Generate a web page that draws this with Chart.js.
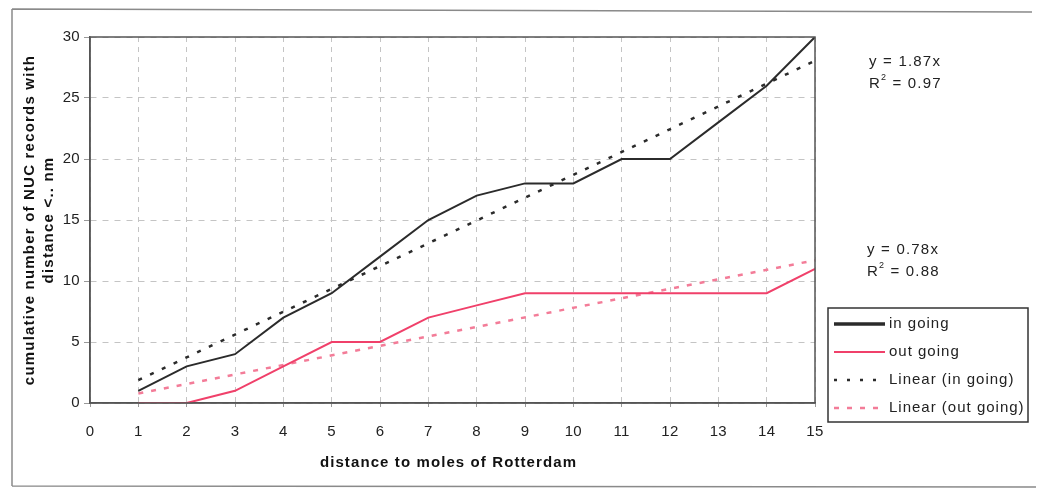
<!DOCTYPE html>
<html>
<head>
<meta charset="utf-8">
<script src="https://cdn.jsdelivr.net/npm/chart.js@4"></script>
<style>
  html, body { margin: 0; padding: 0; background: #fff; }
  #wrap { width: 1041px; height: 491px; position: relative; }
</style>
</head>
<body>
<div id="wrap"><canvas id="c" width="1041" height="491"></canvas></div>
<script>
// Distance to the moles (nm)
const distances = [1, 2, 3, 4, 5, 6, 7, 8, 9, 10, 11, 12, 13, 14, 15];
// Cumulative NUC records within the distance
const inGoing  = [1, 3, 4, 7, 9, 12, 15, 17, 18, 18, 20, 20, 23, 26, 30];
const outGoing = [0, 0, 1, 3, 5, 5, 7, 8, 9, 9, 9, 9, 9, 9, 11];
// Linear fits through the origin: y = 1.87x and y = 0.78x, ends at x = 1 and x = 15
const trendX   = [1, 15];
const trendIn  = [1.87, 28.05];
const trendOut = [0.78, 11.7];
const xTicks = [0, 1, 2, 3, 4, 5, 6, 7, 8, 9, 10, 11, 12, 13, 14, 15];
const yTicks = [0, 5, 10, 15, 20, 25, 30];

const xTitle = 'distance to moles of Rotterdam';
const yTitle = ['cumulative number of NUC records with', 'distance <.. nm'];

const BLACK = '#2b2b2b';
const PINK = '#f0406a';
const PINK_DOT = '#f37c98';
const FONT = '"Liberation Sans", Arial, sans-serif';

const pts = (xs, ys) => xs.map((x, i) => ({ x: x, y: ys[i] }));

const decor = {
  id: 'decor',
  beforeLayout(chart) {
    chart.ctx.letterSpacing = '0.3px';
  },
  beforeDraw(chart) {
    const ctx = chart.ctx;
    ctx.letterSpacing = '0.3px';
    ctx.save();
    ctx.fillStyle = '#fff';
    ctx.fillRect(0, 0, chart.width, chart.height);
    // outer frame of the figure
    ctx.strokeStyle = '#8a8a8a';
    ctx.lineWidth = 1.5;
    ctx.beginPath();
    ctx.moveTo(12, 9); ctx.lineTo(1032, 12);
    ctx.moveTo(12, 9); ctx.lineTo(12, 486);
    ctx.moveTo(12, 486); ctx.lineTo(1036, 487);
    ctx.stroke();
    ctx.restore();
  },
  afterDraw(chart) {
    const ctx = chart.ctx;
    const a = chart.chartArea;
    ctx.save();
    // plot frame
    ctx.setLineDash([]);
    ctx.strokeStyle = '#555';
    ctx.lineWidth = 1.5;
    ctx.strokeRect(a.left, a.top, a.right - a.left, a.bottom - a.top);

    // axis titles
    ctx.fillStyle = '#111';
    ctx.font = 'bold 15px ' + FONT;
    ctx.letterSpacing = '1.1px';
    ctx.textAlign = 'center';
    ctx.textBaseline = 'middle';
    ctx.fillText(xTitle, (a.left + a.right) / 2 - 4, 463);
    ctx.save();
    ctx.translate(30, (a.top + a.bottom) / 2);
    ctx.rotate(-Math.PI / 2);
    ctx.letterSpacing = '1.2px';
    ctx.fillText(yTitle[0], 0, 0);
    ctx.fillText(yTitle[1], 0, 19);
    ctx.restore();

    // regression equations
    ctx.letterSpacing = '1.2px';
    ctx.fillStyle = '#222';
    ctx.textBaseline = 'middle';
    ctx.textAlign = 'left';
    const eq = (x, y, slope, r2) => {
      ctx.font = '15px ' + FONT;
      ctx.fillText('y = ' + slope + 'x', x, y);
      ctx.fillText('R', x, y + 22);
      const w = ctx.measureText('R').width;
      ctx.font = '9px ' + FONT;
      ctx.fillText('2', x + w, y + 16);
      ctx.font = '15px ' + FONT;
      ctx.fillText(' = ' + r2, x + w + 6, y + 22);
    };
    eq(869, 62, '1.87', '0.97');
    eq(867, 250, '0.78', '0.88');

    // legend
    ctx.letterSpacing = '1px';
    const lx = 828, ly = 308, lw = 200, lh = 114;
    ctx.strokeStyle = '#333';
    ctx.lineWidth = 1.5;
    ctx.strokeRect(lx, ly, lw, lh);
    const items = [
      { label: 'in going', color: BLACK, dash: [], width: 3.5 },
      { label: 'out going', color: PINK, dash: [], width: 2 },
      { label: 'Linear (in going)', color: BLACK, dash: [3, 10], width: 2.5 },
      { label: 'Linear (out going)', color: PINK_DOT, dash: [5, 8], width: 2.5 }
    ];
    items.forEach((it, i) => {
      const y = ly + 16 + i * 28;
      ctx.beginPath();
      ctx.setLineDash(it.dash);
      ctx.strokeStyle = it.color;
      ctx.lineWidth = it.width;
      ctx.moveTo(lx + 6, y);
      ctx.lineTo(lx + 57, y);
      ctx.stroke();
      ctx.setLineDash([]);
      ctx.fillStyle = '#222';
      ctx.font = '15px ' + FONT;
      ctx.textAlign = 'left';
      ctx.fillText(it.label, lx + 61, y);
    });
    ctx.restore();
  }
};

new Chart(document.getElementById('c'), {
  type: 'scatter',
  data: {
    datasets: [
      { label: 'Linear (in going)', data: pts(trendX, trendIn), showLine: true,
        borderColor: BLACK, borderWidth: 2.5, borderDash: [4, 9], pointRadius: 0, order: 3 },
      { label: 'Linear (out going)', data: pts(trendX, trendOut), showLine: true,
        borderColor: PINK_DOT, borderWidth: 2.5, borderDash: [5, 8], pointRadius: 0, order: 4 },
      { label: 'in going', data: pts(distances, inGoing), showLine: true,
        borderColor: BLACK, borderWidth: 2, pointRadius: 0, order: 1 },
      { label: 'out going', data: pts(distances, outGoing), showLine: true,
        borderColor: PINK, borderWidth: 2, pointRadius: 0, order: 2 }
    ]
  },
  options: {
    responsive: false,
    animation: false,
    layout: { padding: { left: 0, right: 226, top: 37, bottom: 0 } },
    plugins: { legend: { display: false }, tooltip: { enabled: false } },
    scales: {
      x: {
        type: 'linear', min: 0, max: 15,
        afterBuildTicks: s => { s.ticks = xTicks.map(v => ({ value: v })); },
        afterFit: s => { s.height = 88; },
        border: { display: true, color: '#555', width: 1.5, dash: [5, 5] },
        grid: { color: '#c4c4c4', lineWidth: 1, drawTicks: true, tickLength: 4,
                tickColor: '#999' },
        ticks: { color: '#222', font: { family: FONT, size: 15 }, padding: 16 }
      },
      y: {
        min: 0, max: 30,
        afterBuildTicks: s => { s.ticks = yTicks.map(v => ({ value: v })); },
        afterFit: s => { s.width = 90; },
        border: { display: true, color: '#555', width: 1.5, dash: [6, 6] },
        grid: { color: '#c4c4c4', lineWidth: 1, tickLength: 6, tickColor: '#999' },
        ticks: { color: '#222', font: { family: FONT, size: 15 }, padding: 4 }
      }
    }
  },
  plugins: [decor]
});
</script>
</body>
</html>
